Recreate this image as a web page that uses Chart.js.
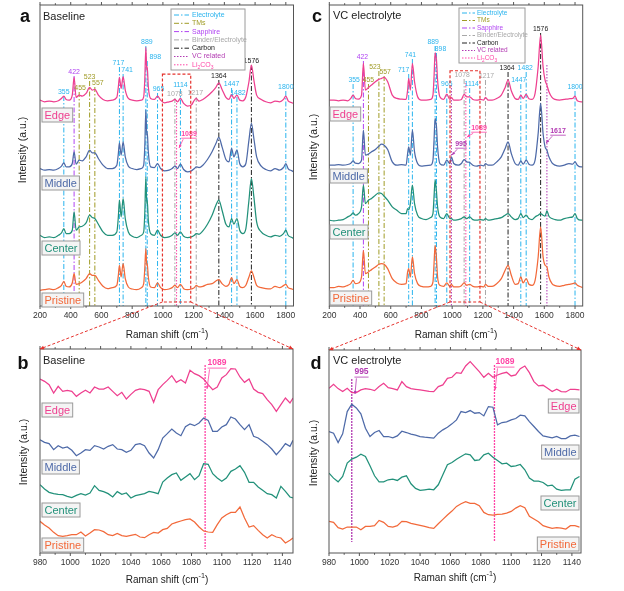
<!DOCTYPE html>
<html>
<head>
<meta charset="utf-8">
<script src="https://cdn.jsdelivr.net/npm/chart.js@4.4.0/dist/chart.umd.min.js"></script>
<style>
  body { margin: 0; background: #fff; width: 624px; height: 591px; overflow: hidden; position: relative; }
  canvas { position: absolute; }
</style>
</head>
<body>
<canvas id="pa" width="312" height="345" style="left:0;top:0"></canvas>
<canvas id="pb" width="312" height="246" style="left:0;top:345px"></canvas>
<canvas id="pc" width="312" height="345" style="left:312px;top:0"></canvas>
<canvas id="pd" width="312" height="246" style="left:312px;top:345px"></canvas>
<canvas id="overlay" width="624" height="591" style="left:0;top:0;pointer-events:none"></canvas>
<script>
'use strict';

// ---- data ----
const seriesNames = ['Edge', 'Middle', 'Center', 'Pristine'];
const seriesColors = ['#ee3f8f', '#4e6aa8', '#22917a', '#f2693a'];

// assigned peaks (cm-1) and what they belong to
const peakShift = [355, 422, 455, 523, 557, 717, 741, 889, 898, 965, 1078, 1114, 1217, 1364, 1447, 1482, 1576, 1800];
const peakKind = ['E', 'S', 'T', 'T', 'T', 'E', 'E', 'E', 'E', 'E', 'B', 'E', 'B', 'C', 'E', 'E', 'C', 'E'];

// panel a, baseline electrolyte, full range
const shiftA = [200, 230, 260, 290, 320, 340, 355, 370, 390, 410,
  422, 435, 455, 475, 500, 523, 540, 557, 580, 610,
  640, 670, 700, 710, 717, 728, 741, 755, 775, 800,
  830, 860, 875, 882, 889, 895, 898, 905, 920, 945,
  965, 985, 1010, 1040, 1060, 1078, 1095, 1114, 1135, 1160,
  1185, 1205, 1217, 1235, 1260, 1290, 1320, 1345, 1364, 1385,
  1410, 1430, 1447, 1462, 1482, 1500, 1520, 1540, 1560, 1576,
  1592, 1610, 1640, 1670, 1700, 1730, 1760, 1785, 1800, 1815,
  1840, 1850];
const edgeA = [17, 12, 14, 12, 15, 22, 29, 19, 17, 32,
  85, 25, 32, 29, 37, 55, 47, 49, 32, 19,
  15, 17, 25, 57, 85, 52, 87, 47, 22, 17,
  15, 17, 27, 77, 175, 107, 117, 57, 22, 19,
  29, 17, 9, 12, 14, 19, 12, 22, 7, -1,
  2, 17, 22, 14, 19, 29, 42, 55, 69, 49,
  25, 19, 34, 22, 32, 17, 15, 27, 72, 122,
  77, 32, 19, 12, 9, 14, 12, 19, 29, 15,
  9, 7];
const middleA = [17, 12, 14, 12, 17, 24, 34, 22, 22, 32,
  67, 30, 42, 40, 52, 72, 64, 64, 47, 27,
  17, 17, 27, 62, 94, 57, 97, 52, 24, 17,
  14, 17, 27, 82, 192, 117, 127, 67, 22, 20,
  32, 17, 10, 12, 17, 24, 17, 30, 14, 7,
  10, 17, 22, 20, 27, 44, 67, 92, 110, 82,
  44, 37, 77, 52, 72, 32, 22, 32, 102, 152,
  107, 52, 24, 14, 10, 17, 12, 20, 32, 17,
  10, 7];
const centerA = [17, 10, 12, 10, 17, 24, 37, 22, 22, 32,
  87, 32, 42, 44, 54, 77, 70, 67, 50, 27,
  17, 17, 27, 72, 122, 72, 127, 67, 27, 14,
  10, 17, 27, 82, 192, 112, 122, 62, 22, 17,
  32, 17, 10, 12, 17, 24, 17, 27, 14, 10,
  12, 17, 22, 20, 30, 50, 77, 107, 122, 92,
  50, 42, 67, 50, 67, 32, 22, 37, 122, 187,
  132, 57, 27, 17, 12, 17, 14, 22, 32, 17,
  10, 7];
const pristineA = [7, 9, 11, 9, 15, 22, 34, 19, 17, 29,
  57, 25, 27, 32, 42, 57, 52, 52, 37, 19,
  12, 15, 22, 52, 82, 47, 87, 42, 17, 11,
  9, 15, 27, 72, 132, 82, 87, 47, 17, 15,
  29, 15, 9, 11, 15, 22, 15, 25, 12, 9,
  11, 15, 22, 17, 19, 25, 27, 35, 39, 27,
  19, 25, 45, 27, 39, 19, 15, 22, 47, 65,
  47, 22, 15, 12, 11, 19, 15, 21, 25, 15,
  11, 9];
const offsetsA = [600, 395, 195, 40];

// panel c, VC electrolyte, full range
const shiftC = [200, 230, 260, 290, 320, 340, 355, 370, 390, 410,
  422, 435, 455, 475, 500, 523, 540, 557, 580, 610,
  640, 670, 700, 710, 717, 728, 741, 755, 775, 800,
  830, 860, 875, 882, 889, 895, 898, 905, 920, 945,
  965, 985, 995, 1010, 1040, 1060, 1078, 1095, 1114, 1135,
  1160, 1185, 1205, 1217, 1235, 1260, 1290, 1320, 1345, 1364,
  1385, 1410, 1430, 1447, 1462, 1482, 1500, 1520, 1540, 1560,
  1576, 1592, 1605, 1617, 1630, 1650, 1670, 1700, 1730, 1760,
  1785, 1800, 1815, 1840, 1850];
const edgeC = [17, 17, 15, 17, 15, 22, 32, 22, 20, 32,
  127, 47, 55, 62, 72, 79, 82, 85, 72, 32,
  22, 20, 19, 47, 82, 47, 127, 72, 27, 17,
  17, 19, 32, 87, 159, 147, 137, 77, 27, 19,
  35, 19, 25, 17, 17, 19, 34, 27, 27, 19,
  17, 19, 17, 25, 17, 17, 22, 32, 55, 77,
  45, 22, 19, 32, 22, 34, 21, 19, 37, 117,
  212, 117, 77, 62, 42, 25, 19, 17, 19, 21,
  22, 29, 15, 12, 12];
const middleC = [12, 12, 14, 12, 14, 18, 25, 18, 17, 27,
  117, 42, 45, 52, 59, 69, 75, 72, 59, 22,
  12, 14, 12, 47, 67, 42, 117, 52, 17, 9,
  11, 12, 27, 87, 152, 137, 127, 67, 17, 12,
  27, 17, 37, 17, 12, 17, 29, 22, 20, 12,
  9, 12, 10, 17, 12, 12, 22, 37, 62, 82,
  47, 17, 12, 25, 15, 27, 15, 12, 27, 107,
  197, 107, 67, 57, 37, 19, 12, 9, 12, 17,
  15, 22, 12, 7, 7];
const centerC = [12, 10, 12, 14, 22, 27, 34, 27, 32, 52,
  117, 62, 72, 77, 87, 94, 92, 84, 72, 52,
  42, 32, 32, 47, 44, 62, 117, 62, 27, 17,
  14, 20, 32, 82, 132, 112, 97, 52, 22, 17,
  32, 17, 17, 12, 14, 17, 22, 17, 22, 14,
  12, 14, 12, 17, 12, 14, 17, 20, 27, 32,
  22, 14, 17, 32, 20, 27, 17, 14, 22, 27,
  32, 27, 24, 40, 24, 17, 14, 12, 17, 20,
  22, 32, 17, 12, 12];
const pristineC = [10, 10, 14, 12, 17, 22, 32, 22, 24, 42,
  122, 52, 57, 64, 72, 80, 82, 80, 67, 37,
  24, 20, 22, 57, 67, 42, 102, 52, 22, 14,
  12, 14, 27, 82, 137, 112, 97, 42, 17, 14,
  24, 14, 20, 12, 12, 16, 24, 17, 20, 14,
  12, 14, 12, 20, 14, 14, 22, 37, 62, 77,
  47, 20, 22, 42, 24, 37, 20, 17, 32, 102,
  192, 102, 77, 72, 42, 22, 16, 14, 17, 20,
  22, 24, 17, 12, 10];
const offsetsC = [600, 410, 245, 45];

// panel b, baseline, 980-1150 close-up
const shiftB = [980, 983, 986, 989, 992, 995, 998, 1001, 1004, 1007,
  1010, 1013, 1016, 1019, 1022, 1025, 1028, 1031, 1034, 1037,
  1040, 1043, 1046, 1049, 1052, 1055, 1058, 1061, 1064, 1067,
  1070, 1073, 1076, 1079, 1082, 1085, 1088, 1091, 1094, 1097,
  1100, 1103, 1106, 1109, 1112, 1115, 1118, 1121, 1124, 1127,
  1130, 1133, 1136, 1139, 1142, 1145, 1147];
const edgeB = [112, 105, 95, 70, 90, 75, 78, 75, 60, 70,
  78, 70, 88, 82, 82, 88, 75, 62, 72, 52,
  66, 78, 82, 80, 75, 42, 80, 95, 108, 122,
  102, 110, 100, 138, 128, 122, 112, 95, 80, 88,
  115, 125, 143, 142, 118, 102, 112, 82, 72, 68,
  50, 35, 15, 35, 55, 40, 55];
const middleB = [50, 42, 38, 20, 32, 25, 28, 18, 2, 10,
  20, 18, 32, 28, 22, 30, 35, 22, 20, 12,
  18, 35, 38, 32, 10, -5, 20, 55, 68, 82,
  70, 62, 89, 97, 92, 100, 115, 108, 75, 75,
  88, 95, 118, 112, 95, 80, 95, 60, 55, 45,
  35, 22, 5, 20, 38, 30, 48];
const centerB = [65, 52, 42, 38, 36, 35, 30, 26, 33, 38,
  34, 40, 62, 48, 44, 38, 28, 44, 36, 40,
  25, 32, 35, 38, 45, 42, 38, 73, 85, 95,
  100, 78, 88, 98, 80, 92, 128, 126, 98, 85,
  75, 85, 105, 112, 122, 102, 72, 72, 58, 48,
  38, 35, 25, 60, 45, 28, 25];
const pristineB = [105, 94, 85, 72, 62, 60, 62, 65, 65, 73,
  61, 70, 80, 79, 74, 65, 62, 69, 62, 60,
  63, 66, 58, 56, 65, 72, 70, 80, 84, 97,
  102, 106, 110, 112, 103, 88, 76, 73, 72, 95,
  115, 125, 132, 132, 148, 115, 88, 92, 78, 65,
  55, 65, 58, 55, 40, 48, 55];

// panel d, VC electrolyte, 980-1150 close-up
const shiftD = [980, 983, 986, 989, 992, 995, 998, 1001, 1004, 1007,
  1010, 1013, 1016, 1019, 1022, 1025, 1028, 1031, 1034, 1037,
  1040, 1043, 1046, 1049, 1052, 1055, 1058, 1061, 1064, 1067,
  1070, 1073, 1076, 1079, 1082, 1085, 1088, 1091, 1094, 1097,
  1100, 1103, 1106, 1109, 1112, 1115, 1118, 1121, 1124, 1127,
  1130, 1133, 1136, 1139, 1142, 1145];
const edgeD = [85, 97, 84, 75, 85, 72, 72, 80, 84, 82,
  78, 90, 100, 87, 84, 80, 105, 90, 84, 82,
  80, 78, 76, 75, 90, 95, 115, 118, 132, 130,
  152, 165, 150, 135, 118, 130, 118, 125, 130, 133,
  122, 125, 144, 152, 132, 105, 92, 94, 85, 75,
  82, 75, 74, 82, 82, 80];
const middleD = [75, 70, 42, 68, 135, 157, 146, 128, 85, 60,
  72, 78, 60, 60, 56, 62, 76, 72, 67, 64,
  60, 58, 57, 55, 70, 80, 88, 98, 110, 135,
  132, 138, 130, 132, 122, 150, 148, 95, 102, 104,
  110, 114, 124, 122, 105, 90, 75, 62, 59, 56,
  60, 54, 54, 62, 64, 60];
const centerD = [100, 85, 74, 90, 130, 142, 148, 157, 150, 122,
  92, 74, 74, 80, 82, 78, 88, 92, 68, 54,
  48, 50, 52, 50, 65, 95, 125, 132, 142, 150,
  158, 155, 138, 140, 155, 160, 148, 138, 128, 130,
  120, 122, 126, 110, 85, 76, 76, 72, 62, 64,
  52, 48, 50, 50, 82, 90];
const pristineD = [105, 102, 86, 82, 88, 88, 88, 80, 90, 90,
  92, 108, 102, 90, 88, 92, 105, 104, 99, 96,
  93, 90, 86, 84, 98, 111, 124, 136, 150, 158,
  164, 159, 159, 152, 132, 125, 124, 126, 127, 130,
  135, 145, 152, 146, 120, 112, 104, 92, 88, 84,
  86, 85, 82, 92, 92, 88];
const offsetsZoom = [420, 300, 150, 0];

// ---- styles / layout ----
const FONT = "'Liberation Sans', Arial, sans-serif";
const RED = '#e5322d';
const DASHDOT = [5, 2, 1.5, 2];
const DOTS = [1.5, 1.5];
const KIND = {
  E: { name: 'Electrolyte', color: '#2ab4ee', dash: DASHDOT },
  T: { name: 'TMs', color: '#a09b26', dash: DASHDOT },
  S: { name: 'Sapphire', color: '#b043f2', dash: DASHDOT },
  B: { name: 'Binder/Electrolyte', color: '#a8a8a8', dash: DASHDOT },
  C: { name: 'Carbon', color: '#222222', dash: DASHDOT },
  V: { name: 'VC related', color: '#b23ab2', dash: DOTS },
  L: { name: 'Li2CO3', color: '#ff45a6', dash: DOTS }
};
// peak label heights (canvas px) and small sideways nudges
const labelYA = [92, 72, 88, 77, 83, 63, 70, 42, 57, 89, 94, 85, 93, 76, 84, 93, 61, 87];
const labelDxA = [0, 0, 1, 0, 3, -1, 4, 1, 8, 1, 0, 0, -1, 0, 0, 1, 0, 0];
const labelYC = [80, 57, 80, 67, 72, 70, 55, 42, 49, 84, 75, 84, 76, 68, 80, 68, 29, 87];
const labelDxC = [1, -1, 0, -4, 1, -5, -2, -2, 4, 0, -2, 2, 1, -1, -2, -1, 0, 0];

Chart.defaults.font.family = FONT;

function vline(ctx, x, y0, y1, color, dash, width) {
  ctx.strokeStyle = color;
  ctx.lineWidth = width || 1;
  ctx.setLineDash(dash);
  ctx.beginPath();
  ctx.moveTo(x, y0);
  ctx.lineTo(x, y1);
  ctx.stroke();
}

function arrowHead(ctx, x0, y0, x1, y1, size) {
  const a = Math.atan2(y1 - y0, x1 - x0);
  ctx.beginPath();
  ctx.moveTo(x1, y1);
  ctx.lineTo(x1 - size * Math.cos(a - 0.45), y1 - size * Math.sin(a - 0.45));
  ctx.lineTo(x1 - size * Math.cos(a + 0.45), y1 - size * Math.sin(a + 0.45));
  ctx.closePath();
  ctx.fill();
}

// text with sub/superscript pieces: [text, shift] where shift 1 = sub, -1 = sup
function richText(ctx, parts, x, y, size, align) {
  const small = size * 0.72;
  let total = 0;
  parts.forEach(([t, s]) => {
    ctx.font = `${s ? small : size}px ${FONT}`;
    total += ctx.measureText(t).width;
  });
  let cx = align === 'center' ? x - total / 2 : x;
  ctx.textAlign = 'left';
  ctx.textBaseline = 'middle';
  parts.forEach(([t, s]) => {
    ctx.font = `${s ? small : size}px ${FONT}`;
    ctx.fillText(t, cx, y + s * size * 0.35);
    cx += ctx.measureText(t).width;
  });
}

function kindLabel(ctx, k, x, y, size) {
  if (k === 'L') richText(ctx, [['Li', 0], ['2', 1], ['CO', 0], ['3', 1]], x, y, size, 'left');
  else { ctx.font = `${size}px ${FONT}`; ctx.textAlign = 'left'; ctx.textBaseline = 'middle'; ctx.fillText(KIND[k].name, x, y); }
}

function decor(p) {
  return {
    id: 'decor',
    beforeDatasetsDraw(chart) {
      const { ctx, chartArea: ca } = chart;
      const sx = v => chart.scales.x.getPixelForValue(v);
      ctx.save();
      if (p.labelY) {
        peakShift.forEach((w, i) => {
          const k = KIND[peakKind[i]];
          vline(ctx, sx(w), p.labelY[i] + 4, ca.bottom, k.color, k.dash, 1);
        });
      }
      (p.specials || []).forEach(s => {
        const k = KIND[s.kind];
        vline(ctx, sx(s.at), s.top, s.bottom || ca.bottom, k.color, s.dash || k.dash, s.width || 1);
      });
      ctx.restore();
    },
    afterDraw(chart) {
      const { ctx, chartArea: ca } = chart;
      const sx = v => chart.scales.x.getPixelForValue(v);
      const sy = v => chart.scales.y.getPixelForValue(v);
      ctx.save();
      // frame and outward ticks
      ctx.setLineDash([]);
      ctx.strokeStyle = '#555';
      ctx.lineWidth = 1;
      ctx.strokeRect(ca.left, ca.top, ca.right - ca.left, ca.bottom - ca.top);
      for (let v = Math.ceil(p.xMin / p.minor) * p.minor; v <= p.xMax; v += p.minor) {
        const x = sx(v), len = v % p.step === 0 ? 3 : 1.8;
        ctx.beginPath();
        ctx.moveTo(x, ca.bottom); ctx.lineTo(x, ca.bottom + len);
        ctx.moveTo(x, ca.top); ctx.lineTo(x, ca.top - len);
        ctx.stroke();
      }
      // peak numbers
      if (p.labelY) {
        ctx.font = `${p.peakFont}px ${FONT}`;
        ctx.textAlign = 'center';
        ctx.textBaseline = 'middle';
        peakShift.forEach((w, i) => {
          ctx.fillStyle = KIND[peakKind[i]].color;
          ctx.fillText(String(w), sx(w) + p.labelDx[i], p.labelY[i]);
        });
      }
      // underlined call-outs with arrows
      (p.callouts || []).forEach(c => {
        const col = KIND[c.kind].color;
        ctx.font = `bold ${c.size}px ${FONT}`;
        ctx.textAlign = 'center';
        ctx.textBaseline = 'middle';
        ctx.fillStyle = col;
        ctx.strokeStyle = col;
        const w = ctx.measureText(c.text).width;
        ctx.fillText(c.text, c.x, c.y);
        ctx.setLineDash([]);
        ctx.lineWidth = 0.8;
        ctx.beginPath();
        ctx.moveTo(c.x - w / 2, c.y + c.size * 0.6);
        ctx.lineTo(c.x + w / 2, c.y + c.size * 0.6);
        const x0 = c.x - w / 2 + 2, y0 = c.y + c.size * 0.75;
        ctx.moveTo(x0, y0);
        ctx.lineTo(c.tx, c.ty);
        ctx.stroke();
        arrowHead(ctx, x0, y0, c.tx, c.ty, 3.5);
      });
      // zoom window
      if (p.box) {
        ctx.strokeStyle = RED;
        ctx.lineWidth = 1.2;
        ctx.setLineDash([3, 2]);
        const x0 = sx(p.box.from), y0 = sy(p.box.top);
        ctx.strokeRect(x0, y0, sx(p.box.to) - x0, sy(p.box.bottom) - y0);
      }
      // legend
      if (p.legend) {
        const g = p.legend;
        ctx.setLineDash([]);
        ctx.fillStyle = '#fff';
        ctx.fillRect(g.x, g.y, g.w, g.h);
        ctx.strokeStyle = '#9a9a9a';
        ctx.lineWidth = 1;
        ctx.strokeRect(g.x, g.y, g.w, g.h);
        ['E', 'T', 'S', 'B', 'C', 'V', 'L'].forEach((k, i) => {
          const y = g.row0 + i * g.step;
          vline(ctx, 0, 0, 0, KIND[k].color, KIND[k].dash, 1);
          ctx.beginPath();
          ctx.moveTo(g.s0, y);
          ctx.lineTo(g.s1, y);
          ctx.stroke();
          ctx.fillStyle = KIND[k].color;
          kindLabel(ctx, k, g.tx, y, g.font);
        });
      }
      // boxed series names
      ctx.setLineDash([]);
      ctx.font = `11px ${FONT}`;
      (p.tags || []).forEach((t, i) => {
        const w = ctx.measureText(seriesNames[i]).width + 5;
        const left = t.align === 'right' ? t.x - w : t.x;
        ctx.fillStyle = '#f4f4f4';
        ctx.fillRect(left, t.y, w, 14);
        ctx.strokeStyle = '#9a9a9a';
        ctx.lineWidth = 1;
        ctx.strokeRect(left, t.y, w, 14);
        ctx.fillStyle = seriesColors[i];
        ctx.textAlign = 'left';
        ctx.textBaseline = 'middle';
        ctx.fillText(seriesNames[i], left + 2.5, t.y + 7.5);
      });
      // panel title
      ctx.font = `11px ${FONT}`;
      ctx.fillStyle = '#222';
      ctx.textAlign = 'left';
      ctx.textBaseline = 'middle';
      ctx.fillText(p.title.text, p.title.x, p.title.y);
      ctx.restore();
    }
  };
}

function makeSets(p) {
  return p.rows.map((vals, i) => ({
    label: seriesNames[i],
    data: vals.map((v, k) => ({ x: p.shift[k], y: v + p.offsets[i] })),
    borderColor: seriesColors[i],
    borderWidth: 1.25,
    pointRadius: 0,
    fill: false,
    cubicInterpolationMode: p.smooth ? 'monotone' : 'default',
    tension: 0
  }));
}

function makeChart(id, p) {
  const cv = document.getElementById(id);
  return new Chart(cv, {
    type: 'line',
    data: { datasets: makeSets(p) },
    options: {
      responsive: false,
      animation: false,
      events: [],
      layout: { padding: { left: p.area.left, top: p.area.top, right: cv.width - p.area.right, bottom: 0 } },
      plugins: { legend: { display: false }, tooltip: { enabled: false } },
      scales: {
        x: {
          type: 'linear', min: p.xMin, max: p.xMax,
          afterFit: s => { s.height = cv.height - p.area.bottom; },
          grid: { display: false, drawTicks: false },
          border: { display: false },
          ticks: {
            stepSize: p.step, autoSkip: false, includeBounds: false, maxRotation: 0,
            padding: 5, color: '#333', font: { size: 8.5 },
            callback: v => String(v)
          }
        },
        y: { display: false, min: p.yMin, max: p.yMax }
      }
    },
    plugins: [decor(p)]
  });
}

const panelA = {
  area: { left: 40, top: 5, right: 293.5, bottom: 306 },
  xMin: 200, xMax: 1850, step: 200, minor: 100, yMin: 0, yMax: 902,
  shift: shiftA, rows: [edgeA, middleA, centerA, pristineA], offsets: offsetsA, smooth: true,
  labelY: labelYA, labelDx: labelDxA, peakFont: 7,
  specials: [{ at: 1089, kind: 'L', top: 100 }],
  callouts: [{ text: '1089', kind: 'L', x: 189, y: 134, tx: 179, ty: 148, size: 7 }],
  box: { from: 997, to: 1181, top: 695, bottom: 12 },
  legend: { x: 171, y: 9, w: 74, h: 61, row0: 15, step: 8.3, s0: 174, s1: 189, tx: 192, font: 7 },
  tags: [{ x: 42, y: 108 }, { x: 42, y: 176 }, { x: 42, y: 241 }, { x: 42, y: 293 }],
  title: { text: 'Baseline', x: 43, y: 17 }
};
const panelB = {
  area: { left: 40, top: 4, right: 293, bottom: 208 },
  xMin: 980, xMax: 1147, step: 20, minor: 10, yMin: 10, yMax: 622,
  shift: shiftB, rows: [edgeB, middleB, centerB, pristineB], offsets: offsetsZoom, smooth: false,
  specials: [{ at: 1089, kind: 'L', top: 20, bottom: 204, dash: [2, 1], width: 1.3 }],
  callouts: [{ text: '1089', kind: 'L', x: 217, y: 18, tx: 207, ty: 44, size: 8.5 }],
  tags: [{ x: 42, y: 58 }, { x: 42, y: 115 }, { x: 42, y: 158 }, { x: 42, y: 193 }],
  title: { text: 'Baseline', x: 43, y: 16 }
};
const panelC = {
  area: { left: 17.3, top: 5, right: 270.7, bottom: 306 },
  xMin: 200, xMax: 1850, step: 200, minor: 100, yMin: 0, yMax: 902,
  shift: shiftC, rows: [edgeC, middleC, centerC, pristineC], offsets: offsetsC, smooth: true,
  labelY: labelYC, labelDx: labelDxC, peakFont: 6.8,
  specials: [{ at: 995, kind: 'V', top: 85 }, { at: 1089, kind: 'L', top: 83 }, { at: 1617, kind: 'V', top: 65 }],
  callouts: [
    { text: '995', kind: 'V', x: 149, y: 144, tx: 140, ty: 155, size: 7 },
    { text: '1089', kind: 'L', x: 167, y: 128, tx: 155, ty: 137, size: 7 },
    { text: '1617', kind: 'V', x: 246, y: 131, tx: 234, ty: 143, size: 7 }
  ],
  box: { from: 986, to: 1181, top: 705, bottom: 12 },
  legend: { x: 147, y: 8, w: 66, h: 55, row0: 13, step: 7.5, s0: 150, s1: 163, tx: 165, font: 6.5 },
  tags: [{ x: 18, y: 107 }, { x: 18, y: 169 }, { x: 18, y: 225 }, { x: 18, y: 291 }],
  title: { text: 'VC electrolyte', x: 21, y: 16 }
};
const panelD = {
  area: { left: 17, top: 5, right: 269, bottom: 208 },
  xMin: 980, xMax: 1146, step: 20, minor: 10, yMin: 10, yMax: 620,
  shift: shiftD, rows: [edgeD, middleD, centerD, pristineD], offsets: offsetsZoom, smooth: false,
  specials: [
    { at: 995, kind: 'V', top: 34, bottom: 197, dash: [2, 1], width: 1.3 },
    { at: 1089, kind: 'L', top: 20, bottom: 197, dash: [2, 1], width: 1.3 }
  ],
  callouts: [
    { text: '995', kind: 'V', x: 49.5, y: 27, tx: 43, ty: 49, size: 8.5 },
    { text: '1089', kind: 'L', x: 193, y: 17, tx: 183, ty: 45, size: 8.5 }
  ],
  tags: [{ x: 267, y: 54, align: 'right' }, { x: 267, y: 100, align: 'right' }, { x: 267, y: 151, align: 'right' }, { x: 267, y: 192, align: 'right' }],
  title: { text: 'VC electrolyte', x: 21, y: 16 }
};

const chartA = makeChart('pa', panelA);
const chartB = makeChart('pb', panelB);
const chartC = makeChart('pc', panelC);
const chartD = makeChart('pd', panelD);

// ---- page-level overlay: letters, axis titles, zoom connectors ----
const ov = document.getElementById('overlay').getContext('2d');
ov.fillStyle = '#111';
ov.font = `bold 18px ${FONT}`;
ov.textAlign = 'center';
ov.textBaseline = 'middle';
[['a', 25, 17], ['b', 23, 364], ['c', 317, 17], ['d', 316, 364]].forEach(([t, x, y]) => ov.fillText(t, x, y));

ov.fillStyle = '#222';
[[167, 335], [456, 335], [167, 580], [455, 578]].forEach(([x, y]) => {
  richText(ov, [['Raman shift (cm', 0], ['-1', -1], [')', 0]], x, y, 10, 'center');
});
[[23, 150], [314, 147], [24, 452], [314, 453]].forEach(([x, y]) => {
  ov.save();
  ov.translate(x, y);
  ov.rotate(-Math.PI / 2);
  ov.font = `10.5px ${FONT}`;
  ov.textAlign = 'center';
  ov.textBaseline = 'middle';
  ov.fillText('Intensity (a.u.)', 0, 0);
  ov.restore();
});

function connect(x0, y0, x1, y1) {
  ov.strokeStyle = RED;
  ov.fillStyle = RED;
  ov.lineWidth = 1;
  ov.setLineDash([3, 2]);
  ov.beginPath();
  ov.moveTo(x0, y0);
  ov.lineTo(x1, y1);
  ov.stroke();
  ov.setLineDash([]);
  arrowHead(ov, x0, y0, x1, y1, 4.5);
}
[[chartA, panelA, chartB, 0], [chartC, panelC, chartD, 312]].forEach(([big, p, small, dx]) => {
  const yb = big.scales.y.getPixelForValue(p.box.bottom);
  const top = 345 + small.chartArea.top;
  connect(dx + big.scales.x.getPixelForValue(p.box.from), yb, dx + small.chartArea.left, top);
  connect(dx + big.scales.x.getPixelForValue(p.box.to), yb, dx + small.chartArea.right, top);
});
</script>
</body>
</html>
